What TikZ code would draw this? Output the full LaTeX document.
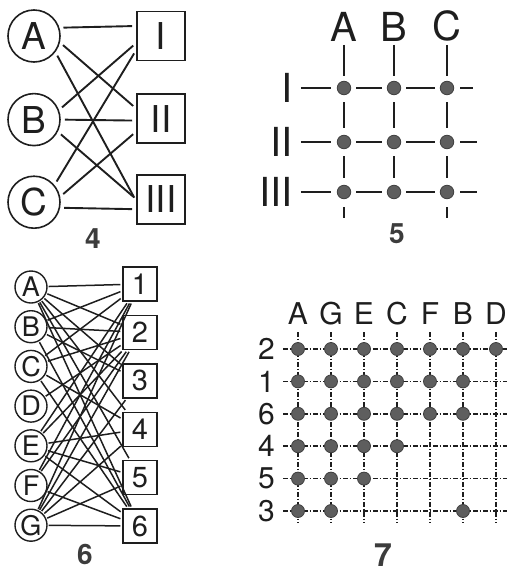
\documentclass[tikz,border=0pt]{standalone}
\usepackage{fontspec}
\setmainfont{TeX Gyre Heros}
\usetikzlibrary{positioning}
\definecolor{ink}{HTML}{1E1E1E}
\definecolor{numgray}{HTML}{3C3C3C}
\definecolor{dotfill}{HTML}{5E5E5E}

\begin{document}
\begin{tikzpicture}[x=1pt,y=-1pt,ink,
 vtx/.style={draw,circle,line width=1.6pt,inner sep=0pt},
 cellbox/.style={draw,rectangle,line width=1.6pt,inner sep=0pt},
 vtx4/.style={vtx,minimum size=52pt},
 box4/.style={cellbox,minimum width=48pt,minimum height=49pt},
 vtx6/.style={vtx,line width=1.4pt,minimum size=32pt},
 box6/.style={cellbox,line width=1.4pt,minimum width=34pt,minimum height=34pt},
 link/.style={line width=1.9pt,shorten <=4pt,shorten >=4pt},
 dotnode/.style={circle,fill=dotfill,draw=ink!85,line width=0.8pt,inner sep=0pt},
 bar/.style={line width=2pt,shorten <=6pt,shorten >=6pt},
 gridline/.style={line width=1.5pt,dash pattern=on 4.5pt off 2pt on 1.5pt off 2pt},
 figno/.style={font=\fontsize{28}{28}\selectfont\bfseries,text=numgray}]
\useasboundingbox (0,0) rectangle (507,576);

% 4
\begin{scope}[node distance=30pt,every node/.append style={font=\fontsize{37}{37}\selectfont}]
\node[vtx4] (a4) at (34,36) {A};
\node[vtx4,below=of a4] (b4) {B};
\node[vtx4,below=29pt of b4] (c4) {C};
\node[box4] (i4) at (161,36) {I};
\node[box4,below=32pt of i4] (ii4) {II};
\node[box4,below=of ii4] (iii4) {III};
\end{scope}
\draw[link] (a4.18) -- ([yshift=10pt]i4.west);
\draw[link] (a4.-14) -- ([yshift=10pt]ii4.west);
\draw[link] (a4.-37) -- ([yshift=-2pt]iii4.west);
\draw[link] (b4.21) -- ([yshift=-7pt]i4.west);
\draw[link] (b4.0) -- ([yshift=-2pt]ii4.west);
\draw[link] (b4.-27) -- (iii4.west);
\draw[link] (c4.40) -- ([yshift=-14pt]i4.west);
\draw[link] (c4.12) -- ([yshift=-13pt]ii4.west);
\draw[link] (c4.-12) -- ([yshift=-10pt]iii4.west);
\node[figno] (cap4) at (93,239) {4};

% 5
\foreach \c/\x in {1/344,2/394,3/447}
  \foreach \r/\y in {1/88,2/142,3/192}
    \node[dotnode,minimum size=13.5pt] (p\r\c) at (\x,\y) {};
\begin{scope}[every node/.append style={font=\fontsize{40}{40}\selectfont,inner sep=0pt}]
\node[above=39pt of p11] (ca) {A};
\node[above=39pt of p12] (cb) {B};
\node[above=39pt of p13] (cc) {C};
\node[left=44pt of p11] (ri) {I};
\node[left=44pt of p21] (rii) {II};
\node[left=44pt of p31] (riii) {III};
\end{scope}
\coordinate (ta) at (344,218);
\coordinate (tc) at (447,218);
\coordinate (ei) at (473,88);
\coordinate (eii) at (477,142);
\coordinate (eiii) at (477,192);
\foreach \u/\v in {ca/p11,cb/p12,cc/p13}
  \draw[bar,shorten <=3pt,shorten >=5pt] (\u) -- (\v);
\foreach \u/\v in {p11/p21,p21/p31,p12/p22,p22/p32,p13/p23,p23/p33}
  \draw[bar,shorten <=7pt,shorten >=7pt] (\u) -- (\v);
\foreach \u/\v in {p31/ta,p33/tc}
  \draw[bar,shorten <=8pt,shorten >=0pt] (\u) -- (\v);
\foreach \u/\v in {ri/p11,rii/p21,riii/p31}
  \draw[bar,shorten <=8pt] (\u) -- (\v);
\foreach \u/\v in {p11/p12,p12/p13,p21/p22,p22/p23,p31/p32,p32/p33}
  \draw[bar,shorten <=5pt,shorten >=5pt] (\u) -- (\v);
\foreach \u/\v in {p13/ei,p23/eii,p33/eiii}
  \draw[bar,shorten <=6pt,shorten >=0pt] (\u) -- (\v);
\node[figno] (cap5) at (397,234) {5};

% 6
\begin{scope}[node distance=6.3pt,every node/.append style={font=\fontsize{27}{27}\selectfont}]
\node[vtx6] (a6) at (31,287) {A};
\node[vtx6,below=of a6] (b6) {B};
\node[vtx6,below=of b6] (c6) {C};
\node[vtx6,below=of c6] (d6) {D};
\node[vtx6,below=of d6] (e6) {E};
\node[vtx6,below=of e6] (f6) {F};
\node[vtx6,below=of f6] (g6) {G};
\end{scope}
\begin{scope}[node distance=13pt,every node/.append style={font=\fontsize{29}{29}\selectfont}]
\node[box6] (k1) at (140,284) {1};
\node[box6,below=of k1] (k2) {2};
\node[box6,below=of k2] (k3) {3};
\node[box6,below=of k3] (k4) {4};
\node[box6,below=of k4] (k5) {5};
\node[box6,below=of k5] (k6) {6};
\end{scope}
\foreach \u/\v in {a6/k1,a6/k2,a6/k3,a6/k4,a6/k5,a6/k6,
    b6/k1,b6/k2,b6/k3,b6/k6,
    c6/k1,c6/k2,c6/k4,c6/k6,
    d6/k2,
    e6/k1,e6/k2,e6/k4,e6/k5,e6/k6,
    f6/k1,f6/k2,f6/k6,
    g6/k1,g6/k2,g6/k3,g6/k4,g6/k5,g6/k6}
  \draw[link,line width=1.5pt,shorten <=1pt,shorten >=2pt] (\u) -- (\v);
\node[figno] (cap6) at (85,554) {6};

% 7
\begin{scope}[every node/.append style={font=\fontsize{30}{30}\selectfont,inner sep=0pt}]
\foreach \l [count=\i from 0] in {A,G,E,C,F,B,D}
  \node[anchor=south] (t\l) at (298+33*\i,325) {\l};
\foreach \l [count=\j from 0] in {2,1,6,4,5,3}
  \node[anchor=east,font=\fontsize{30}{30}\selectfont] (y\l) at (275,349+32.4*\j) {\l};
\end{scope}
\foreach \l [count=\i from 0] in {A,G,E,C,F,B,D}
  \coordinate (u\l) at (298+33*\i,523);
\foreach \l [count=\j from 0] in {2,1,6,4,5,3}
  \coordinate (w\l) at (507,349+32.4*\j);
\foreach \l in {A,G,E,C,F,B,D}
  \draw[gridline,shorten <=7pt] (t\l) -- (u\l);
\foreach \l in {2,1,6,4,5,3}
  \draw[gridline,shorten <=8pt] (y\l) -- (w\l);
\foreach \r/\cols in {2/{A,G,E,C,F,B,D},1/{A,G,E,C,F,B},6/{A,G,E,C,F,B},
    4/{A,G,E,C},5/{A,G,E},3/{A,G,B}}
  \foreach \l in \cols
    \node[dotnode,minimum size=13pt] (d\l\r) at (t\l |- y\r) {};
\node[figno,font=\fontsize{32}{32}\selectfont\bfseries] (cap7) at (383,555) {7};
\end{tikzpicture}
\end{document}
